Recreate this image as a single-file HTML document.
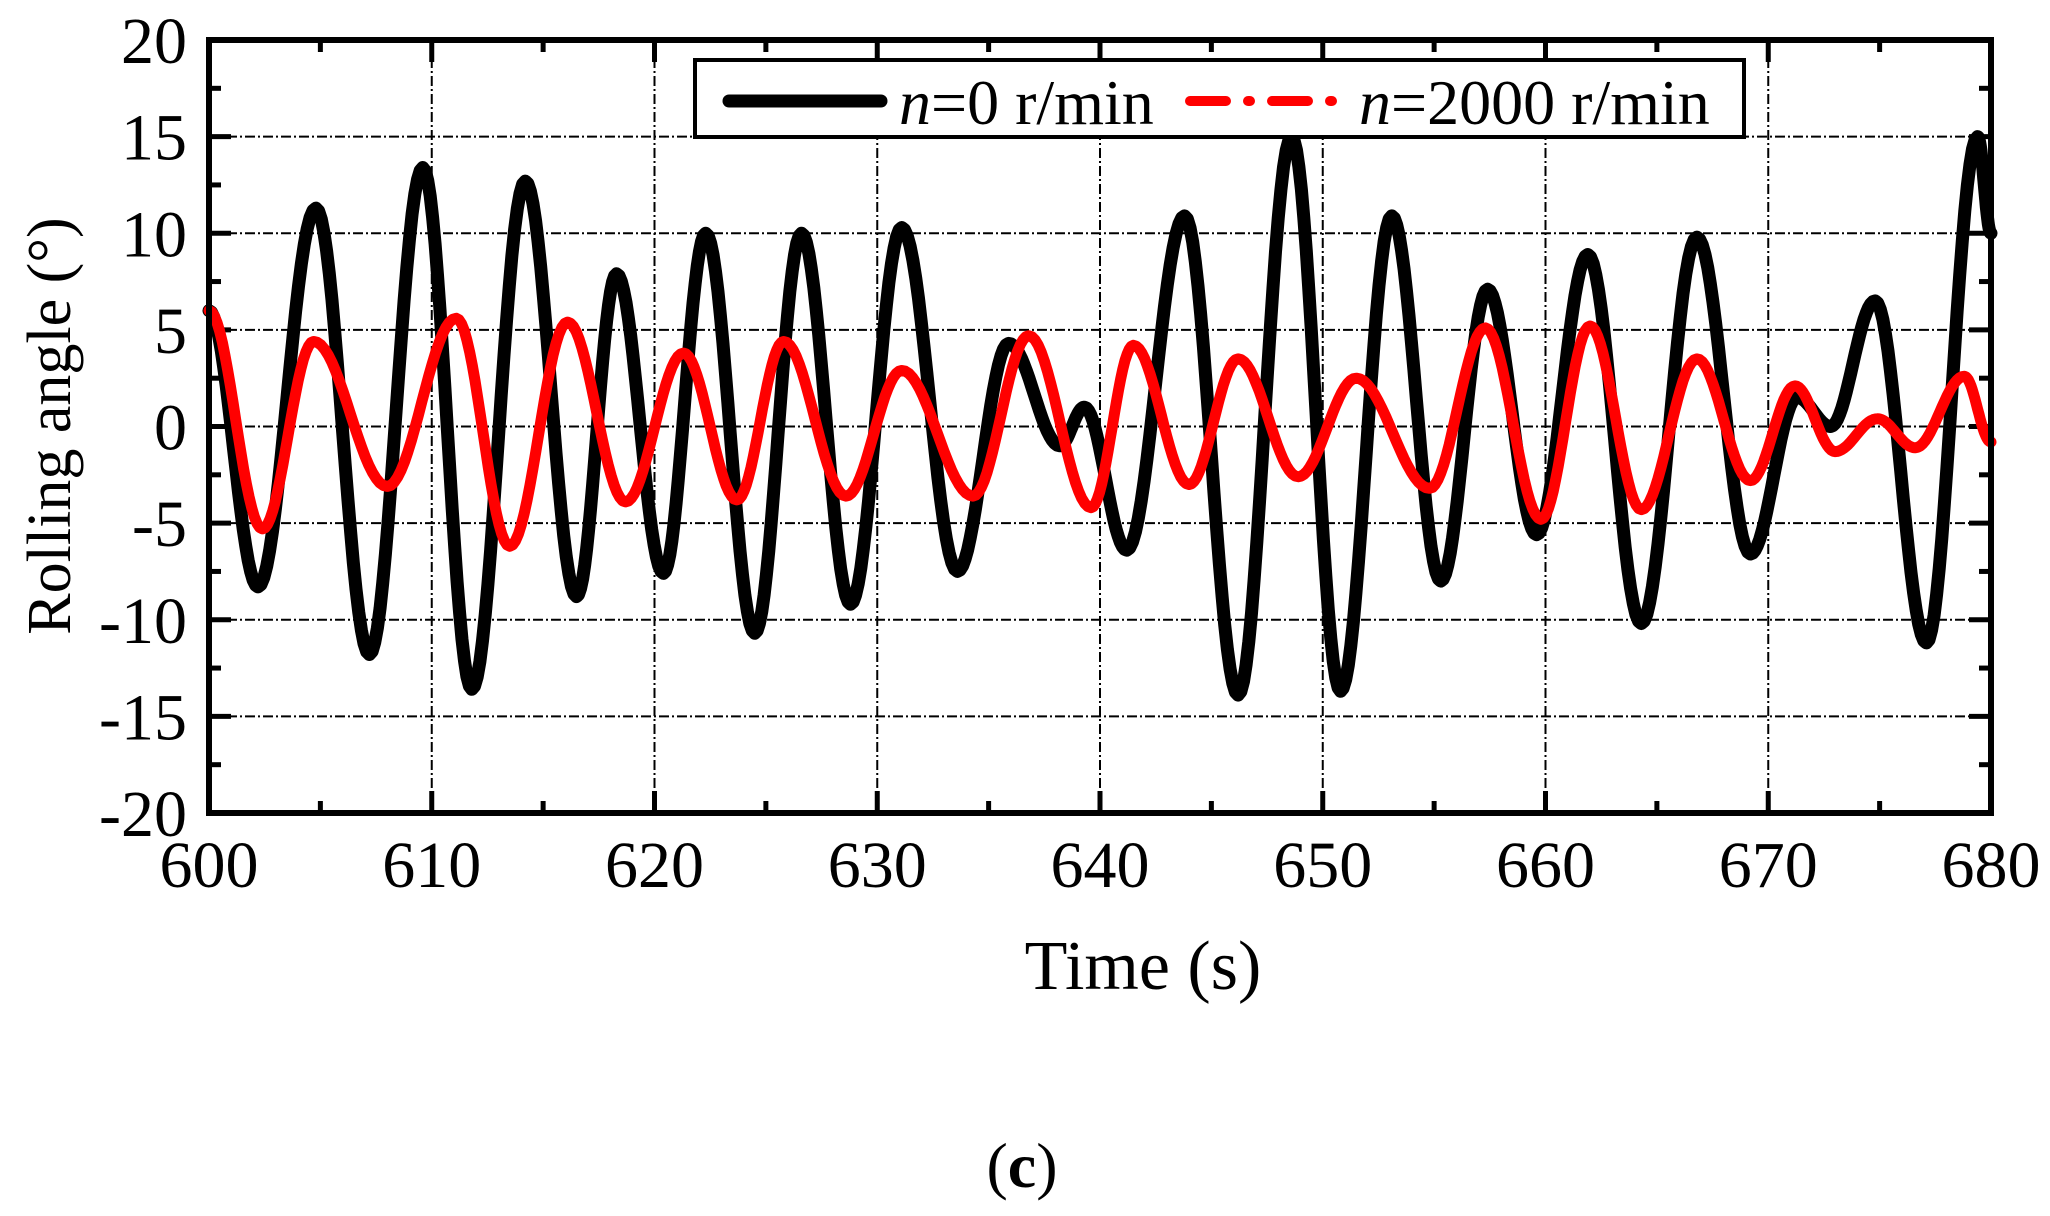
<!DOCTYPE html>
<html><head><meta charset="utf-8"><style>
html,body{margin:0;padding:0;background:#fff}
svg{display:block}
text{font-family:"Liberation Serif",serif;fill:#000}
</style></head><body>
<svg id="s" width="2050" height="1216" viewBox="0 0 2050 1216" xmlns="http://www.w3.org/2000/svg">
<g id="grid" stroke="#000" stroke-width="2" stroke-dasharray="10,3,2,3"></g>
<g id="ticks" stroke="#000" stroke-width="5"></g>
<path id="blk" fill="none" stroke="#000" stroke-width="13" stroke-linejoin="round" stroke-linecap="round"/>
<path id="red" fill="none" stroke="#f00" stroke-width="11" stroke-linejoin="round" stroke-linecap="round"/>
<rect x="209" y="40" width="1782" height="773" fill="none" stroke="#000" stroke-width="6"/>
<g id="lab" font-size="66"></g>
<rect x="695" y="60" width="1049" height="77" fill="#fff" stroke="#000" stroke-width="4"/>
<line x1="729" y1="101" x2="881" y2="101" stroke="#000" stroke-width="13" stroke-linecap="round"/>
<line x1="1190" y1="101" x2="1342" y2="101" stroke="#f00" stroke-width="10" stroke-linecap="round" stroke-dasharray="36,22,2,22"/>
<text x="899" y="124" font-size="64"><tspan font-style="italic">n</tspan>=0 r/min</text>
<text x="1359" y="124" font-size="64"><tspan font-style="italic">n</tspan>=2000 r/min</text>
<text x="1143" y="989" font-size="70" text-anchor="middle">Time (s)</text>
<text transform="translate(70,426) rotate(-90)" font-size="62" text-anchor="middle">Rolling angle (°)</text>
<text x="1022" y="1187" font-size="64" text-anchor="middle">(<tspan font-weight="bold">c</tspan>)</text>
</svg>
<script>
var L=209,R=1991,T=40,B=813;
function X(t){return L+(t-600)/80*(R-L);}
function Y(v){return 426.5-v*(B-T)/40;}
var g=document.getElementById('grid'),tk=document.getElementById('ticks'),lb=document.getElementById('lab');
var NS="http://www.w3.org/2000/svg";
function el(p,n,a,txt){var e=document.createElementNS(NS,n);for(var k in a)e.setAttribute(k,a[k]);if(txt)e.textContent=txt;p.appendChild(e);return e;}
for(var t=600;t<=680;t+=5){var x=X(t),maj=t%10==0;
 if(maj&&t>600&&t<680)el(g,'line',{x1:x,y1:T,x2:x,y2:B});
 var len=maj?22:12;
 el(tk,'line',{x1:x,y1:B,x2:x,y2:B-len});el(tk,'line',{x1:x,y1:T,x2:x,y2:T+len});
 if(maj)el(lb,'text',{x:x,y:887,'text-anchor':'middle'},String(t));}
for(var v=-20;v<=20;v+=2.5){var y=Y(v),maj=v%5==0;
 if(maj&&v>-20&&v<20)el(g,'line',{x1:L,y1:y,x2:R,y2:y});
 var len=maj?22:12;
 el(tk,'line',{x1:L,y1:y,x2:L+len,y2:y});el(tk,'line',{x1:R,y1:y,x2:R-len,y2:y});
 if(maj)el(lb,'text',{x:187,y:y+23,'text-anchor':'end'},String(v));}
function path(pts){var d='';for(var i=0;i<pts.length-1;i++){var a=pts[i],b=pts[i+1];
 for(var j=0;j<=20;j++){var s=j/20,t=a[0]+(b[0]-a[0])*s,v=a[1]+(b[1]-a[1])*(1-Math.cos(Math.PI*s))/2;
 d+=(d?'L':'M')+X(t).toFixed(1)+' '+Y(v).toFixed(1);}}return d;}
var bk=[[600,6],[602.2,-8.3],[604.8,11.3],[607.2,-11.8],[609.6,13.4],[611.8,-13.6],[614.2,12.7],[616.5,-8.8],[618.3,7.9],[620.4,-7.6],[622.3,10],[624.5,-10.7],[626.6,10],[628.8,-9.2],[631.1,10.3],[633.6,-7.5],[635.9,4.3],[638.2,-1],[639.3,1],[641.2,-6.4],[643.8,10.9],[646.2,-13.9],[648.6,15],[650.8,-13.7],[653.1,10.9],[655.3,-8],[657.4,7.1],[659.6,-5.6],[661.9,8.9],[664.3,-10.2],[666.8,9.8],[669.2,-6.6],[671.3,1.5],[672.8,0],[674.8,6.5],[677.1,-11.2],[679.4,15],[680,10]];
var rd=[[600,6],[602.4,-5.3],[604.7,4.4],[608,-3.1],[611.1,5.6],[613.5,-6.2],[616.1,5.4],[618.7,-3.9],[621.3,3.8],[623.7,-3.8],[625.8,4.4],[628.6,-3.6],[631.1,2.9],[634.3,-3.6],[636.8,4.7],[639.6,-4.2],[641.5,4.2],[644,-3],[646.2,3.5],[648.9,-2.6],[651.5,2.5],[654.8,-3.2],[657.3,5.1],[659.8,-4.8],[662,5.2],[664.3,-4.3],[666.8,3.5],[669.2,-2.8],[671.2,2.1],[673,-1.3],[674.9,0.4],[676.6,-1.1],[678.8,2.6],[680,-0.8]];
document.getElementById('blk').setAttribute('d',path(bk));
document.getElementById('red').setAttribute('d',path(rd));
</script>
</body></html>
